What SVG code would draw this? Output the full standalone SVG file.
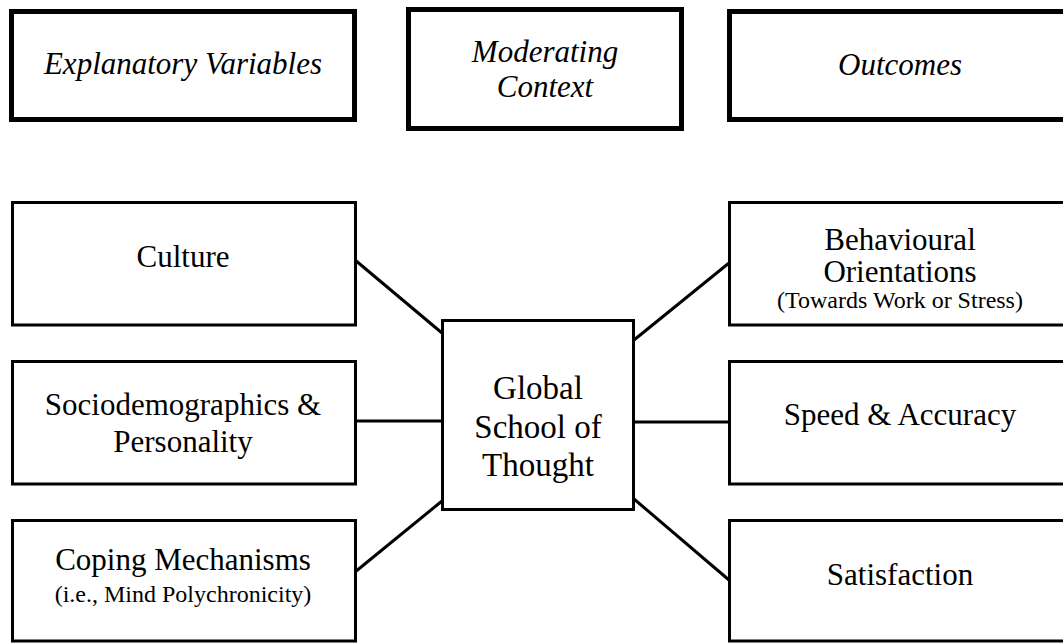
<svg xmlns="http://www.w3.org/2000/svg" width="1063" height="643" viewBox="0 0 1063 643">
  <style>
    .hdr { fill: #fff; stroke: #000; stroke-width: 5; }
    .box { fill: #fff; stroke: #000; stroke-width: 3; }
    .link { stroke: #000; stroke-width: 3; fill: none; }
    text { font-family: "Liberation Serif", "Times New Roman", Times, Tinos, "Nimbus Roman", "Noto Serif", "DejaVu Serif", serif; fill: #000; text-anchor: middle; }
    .it { font-style: italic; font-size: 31px; }
    .lbl { font-size: 31px; }
    .sub { font-size: 24px; }
    .core { font-size: 33px; }
  </style>
  <rect width="1063" height="643" fill="#fff"/>

  <!-- column headers -->
  <g id="hdr-explanatory">
    <rect class="hdr" x="11.5" y="11.5" width="343" height="108"/>
    <text class="it" x="183" y="74">Explanatory Variables</text>
  </g>
  <g id="hdr-moderating">
    <rect class="hdr" x="408.5" y="9.5" width="273" height="119"/>
    <text class="it" x="545" y="62">Moderating</text>
    <text class="it" x="545" y="97">Context</text>
  </g>
  <g id="hdr-outcomes">
    <rect class="hdr" x="729.5" y="11.5" width="345" height="108"/>
    <text class="it" x="900" y="75">Outcomes</text>
  </g>

  <!-- connectors -->
  <g id="connectors">
    <line class="link" x1="355" y1="260" x2="442" y2="333"/>
    <line class="link" x1="355" y1="421" x2="442" y2="421"/>
    <line class="link" x1="355" y1="572" x2="442" y2="501"/>
    <line class="link" x1="634" y1="340" x2="729" y2="263"/>
    <line class="link" x1="634" y1="422" x2="729" y2="422"/>
    <line class="link" x1="634" y1="499" x2="729" y2="580"/>
  </g>

  <!-- explanatory variables -->
  <g id="culture">
    <rect class="box" x="12.5" y="202.5" width="343" height="122.5"/>
    <text class="lbl" x="183" y="267">Culture</text>
  </g>
  <g id="sociodemographics">
    <rect class="box" x="12.5" y="361.5" width="343" height="122.5"/>
    <text class="lbl" x="183" y="415">Sociodemographics &amp;</text>
    <text class="lbl" x="183" y="452">Personality</text>
  </g>
  <g id="coping">
    <rect class="box" x="12.5" y="520.5" width="343" height="120.5"/>
    <text class="lbl" x="183" y="570">Coping Mechanisms</text>
    <text class="sub" x="183" y="602">(i.e., Mind Polychronicity)</text>
  </g>

  <!-- moderating context -->
  <g id="global-school">
    <rect class="box" x="442.5" y="320.5" width="191" height="189"/>
    <text class="core" x="538" y="399">Global</text>
    <text class="core" x="538" y="438">School of</text>
    <text class="core" x="538" y="476">Thought</text>
  </g>

  <!-- outcomes -->
  <g id="behavioural">
    <rect class="box" x="729.5" y="202.5" width="345" height="122.5"/>
    <text class="lbl" x="900" y="250">Behavioural</text>
    <text class="lbl" x="900" y="282">Orientations</text>
    <text class="sub" x="900" y="308">(Towards Work or Stress)</text>
  </g>
  <g id="speed-accuracy">
    <rect class="box" x="729.5" y="361.5" width="345" height="122.5"/>
    <text class="lbl" x="900" y="425">Speed &amp; Accuracy</text>
  </g>
  <g id="satisfaction">
    <rect class="box" x="729.5" y="520.5" width="345" height="120.5"/>
    <text class="lbl" x="900" y="585">Satisfaction</text>
  </g>
</svg>
